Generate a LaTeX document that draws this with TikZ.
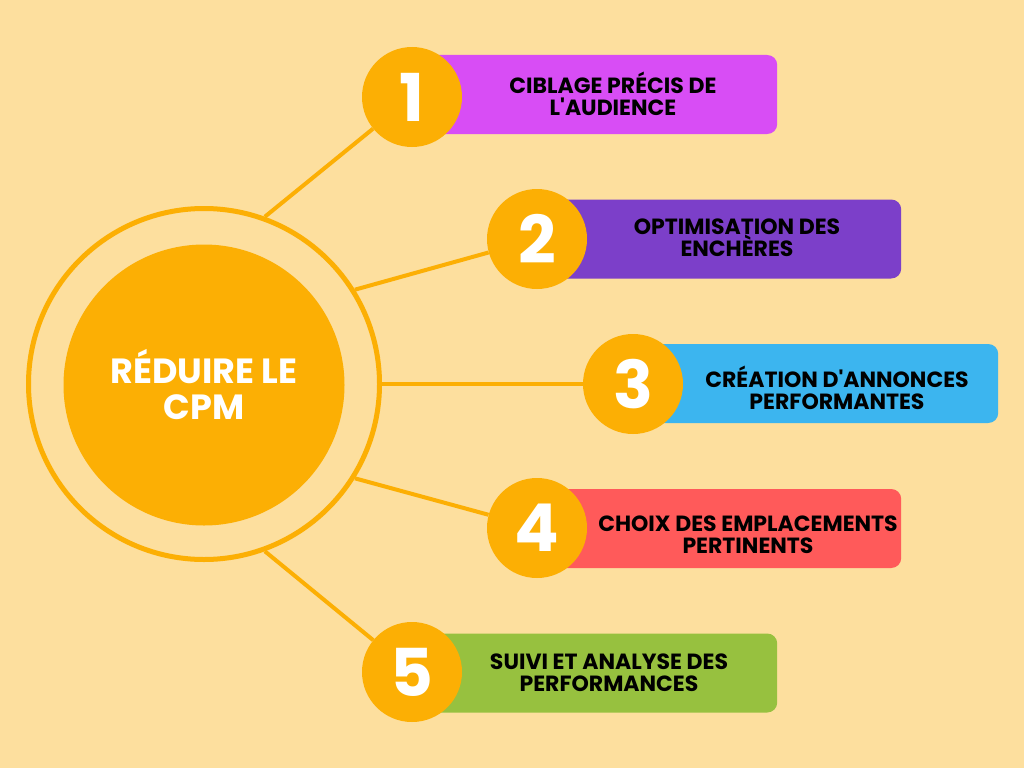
\documentclass[tikz,border=0pt]{standalone}
\usepackage{fontspec}
\setmainfont{Poppins}[Ligatures=TeXOff]
\usepackage{tikz}
\usetikzlibrary{positioning}

\definecolor{peach}{HTML}{FDDF9E}
\definecolor{amber}{HTML}{FCAF04}
\definecolor{barpink}{HTML}{D84DF5}
\definecolor{barpurple}{HTML}{7C3FC9}
\definecolor{barblue}{HTML}{3CB5EF}
\definecolor{barred}{HTML}{FF5A5A}
\definecolor{bargreen}{HTML}{97C13F}

\begin{document}
\begin{tikzpicture}[x=1pt,y=-1pt,
  num node/.style={circle,fill=amber,inner sep=0pt,minimum size=100pt,text=white,font=\fontsize{66}{66}\selectfont\bfseries},
  bar node/.style={rectangle,rounded corners=10pt,anchor=west,minimum height=79pt,inner sep=0pt},
  label node/.style={align=center,font=\fontsize{22}{22}\selectfont\bfseries,text=black},
  link/.style={draw=amber,line width=4pt}]

  \fill[peach] (0,0) rectangle (1024,768);
  \useasboundingbox (0,0) rectangle (1024,768);

  % bars behind the number discs
  \node[bar node,fill=barpink,minimum width=365pt] (b1) at (412,94.5) {};
  \node[bar node,fill=barpurple,minimum width=364pt] (b2) at (537,239) {};
  \node[bar node,fill=barblue,minimum width=365pt] (b3) at (633,383.5) {};
  \node[bar node,fill=barred,minimum width=364pt] (b4) at (537,528.5) {};
  \node[bar node,fill=bargreen,minimum width=365pt] (b5) at (412,673) {};

  \node[num node] (n1) at (412,97) {1};
  \node[num node] (n2) at (537,239) {2};
  \node[num node] (n3) at (633,384) {3};
  \node[num node] (n4) at (537,528) {4};
  \node[num node] (n5) at (412,672) {5};

  \node[label node] (t1) at (613,94) {CIBLAGE PRÉCIS DE\\L'AUDIENCE};
  \node[label node] (t2) at (737,238) {OPTIMISATION DES\\ENCHÈRES};
  \node[label node] (t3) at (837,388) {CRÉATION D'ANNONCES\\PERFORMANTES};
  \node[label node] (t4) at (748,535) {CHOIX DES EMPLACEMENTS\\PERTINENTS};
  \node[label node] (t5) at (609,673) {SUIVI ET ANALYSE DES\\PERFORMANCES};

  % central hub
  \node[circle,draw=amber,line width=5pt,minimum size=351pt,inner sep=0pt] (ring) at (204,384) {};
  \node[circle,fill=amber,minimum size=281pt,inner sep=0pt,align=center,text=white,
        font=\fontsize{35}{36}\selectfont\bfseries] (core) at (204,385) {RÉDUIRE LE\\CPM};

  \draw[link] (ring.70) -- (n1);
  \draw[link] (ring.32) -- (n2);
  \draw[link] (ring.0) -- (n3);
  \draw[link] (ring.-32) -- (n4);
  \draw[link] (ring.-70) -- (n5);

\end{tikzpicture}
\end{document}
